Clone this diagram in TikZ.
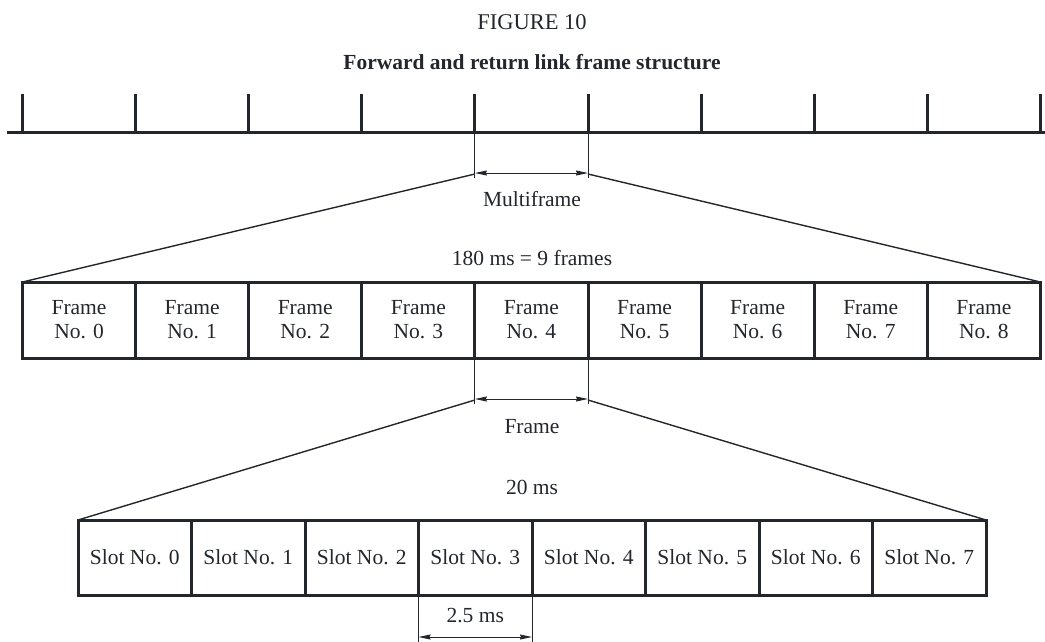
\documentclass[tikz,border=0pt]{standalone}
\usepackage{fontspec}
\setmainfont{Liberation Serif}
\usetikzlibrary{arrows.meta}

\definecolor{ink}{RGB}{35,38,42}

\tikzset{
  thickline/.style={draw=ink, line width=3pt},
  thinline/.style={draw=ink, line width=1pt},
  fanline/.style={draw=ink, line width=1.4pt},
  dimarrow/.style={draw=ink, line width=1pt, {Stealth[length=12pt, width=5pt, inset=1pt]}-{Stealth[length=12pt, width=5pt, inset=1pt]}},
  cell/.style={draw=ink, line width=3pt, inner sep=0pt, outer sep=0pt, align=center, text=ink},
  label/.style={text=ink},
}

\begin{document}
\begin{tikzpicture}[x=1pt, y=-1pt, font=\fontsize{21.5}{24}\selectfont]
    \useasboundingbox (0,0) rectangle (1045,641);
    % Titles
    \node[label, font=\fontsize{22.5}{24}\selectfont] (fig) at (532,22) {FIGURE 10};
    \node[label, font=\fontsize{21.5}{24}\selectfont\bfseries] (title) at (532,62) {Forward and return link frame structure};
    % Time line with multiframe ticks
    \draw[thickline] (7,132) -- (1045,132);
    \foreach \k in {0,...,9}
        \draw[thickline] (22.5+113.1*\k,94) -- (22.5+113.1*\k,132) coordinate (t\k);
    % Frames
    \foreach \i in {0,...,8}
        \node[cell, minimum width=113.1pt, minimum height=76pt] (f\i) at (79.05+113.1*\i,320) {Frame\\No. \i};
    % Multiframe marker
    \draw[thinline] (t4) -- ++(0,46);
    \draw[thinline] (t5) -- ++(0,46);
    \draw[dimarrow] ([yshift=-41pt]t4) -- ([yshift=-41pt]t5);
    \draw[fanline] ([yshift=-42pt]t4) -- (f0.north west);
    \draw[fanline] ([yshift=-42pt]t5) -- (f8.north east);
    \node[label] (multi) at (532,199) {Multiframe};
    \node[label] (mlen) at (532,258) {180 ms = 9 frames};
    % Slots
    \foreach \i in {0,...,7}
        \node[cell, minimum width=113.5pt, minimum height=75pt] (s\i) at (134.75+113.5*\i,557.5) {Slot No. \i};
    % Frame marker
    \draw[thinline] (f4.south west) -- ++(0,46);
    \draw[thinline] (f4.south east) -- ++(0,46);
    \draw[dimarrow] ([yshift=-41pt]f4.south west) -- ([yshift=-41pt]f4.south east);
    \draw[fanline] ([yshift=-42pt]f4.south west) -- (s0.north west);
    \draw[fanline] ([yshift=-42pt]f4.south east) -- (s7.north east);
    \node[label] (frm) at (532,427) {Frame};
    \node[label] (flen) at (532,487) {20 ms};
    % Slot marker
    \draw[thinline] (s3.south west) -- ++(0,48);
    \draw[thinline] (s3.south east) -- ++(0,48);
    \draw[dimarrow] ([yshift=-42pt]s3.south west) -- ([yshift=-42pt]s3.south east);
    \node[label] (slen) at (s3 |- 0,616) {2.5 ms};
\end{tikzpicture}
\end{document}
